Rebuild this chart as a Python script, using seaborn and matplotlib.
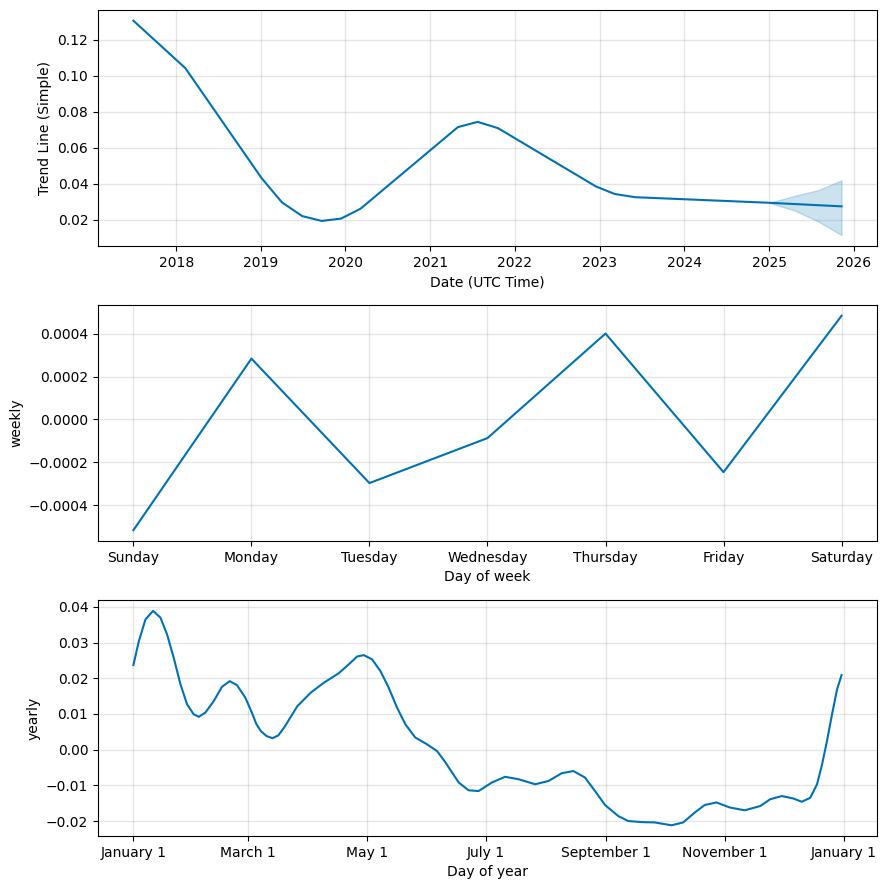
import pandas as pd
import numpy as np
import seaborn as sns
import matplotlib
matplotlib.use('Agg')
import matplotlib.pyplot as plt
from matplotlib.dates import MonthLocator, num2date
from matplotlib.ticker import FuncFormatter

# Trend component
trend_dates = ['2017-06-30', '2018-02-09', '2019-01-04', '2019-04-02', '2019-06-28',
               '2019-09-20', '2019-12-13', '2020-03-06', '2021-04-30', '2021-07-24',
               '2021-10-20', '2022-12-16', '2023-03-07', '2023-06-03', '2025-01-01',
               '2025-11-10']
trend_values = [0.1307, 0.1043, 0.0431, 0.0296, 0.0220, 0.0193, 0.0206, 0.0261,
                0.0715, 0.0744, 0.0709, 0.0385, 0.0343, 0.0325, 0.0294, 0.0274]

# Forecast uncertainty on the trend
band_dates = ['2025-01-01', '2025-04-23', '2025-07-31', '2025-11-10']
band_upper = [0.0294, 0.0333, 0.0364, 0.0419]
band_lower = [0.0294, 0.0250, 0.0191, 0.0114]

# Weekly component
week_days = ['Sunday', 'Monday', 'Tuesday', 'Wednesday', 'Thursday', 'Friday', 'Saturday']
weekly_values = [-0.000517, 0.000284, -0.000297, -0.000087, 0.000401, -0.000246, 0.000484]

# Yearly component (day offset from Jan 1, value)
year_days = [0, 2.8, 6.2, 10.1, 13.9, 17.3, 20.7, 24.2, 27.6, 31, 33.6, 37, 41.3,
             45.5, 49.5, 53.2, 57.5, 60.9, 63.1, 65.5, 68.5, 71.5, 74.5, 77.5, 84.3,
             91.2, 98, 105.5, 110.7, 115, 118.4, 122.7, 127, 131.2, 135.5, 139.8,
             144.9, 150.9, 156.1, 160.3, 167.2, 172.3, 177.4, 184.3, 191.1, 198,
             206.5, 213.3, 220.2, 226.2, 232.1, 237.3, 242.4, 249.2, 254.3, 261.2,
             268, 276.6, 282.6, 288.6, 293.7, 299.7, 306.5, 314.2, 322.2, 327.3,
             333.3, 339.3, 343.6, 347.9, 351.4, 354, 356.5, 359.1, 361.7, 364]
yearly_values = [0.0237, 0.0304, 0.0365, 0.0389, 0.0370, 0.0323, 0.0258, 0.0183,
                 0.0127, 0.0099, 0.0092, 0.0104, 0.0136, 0.0176, 0.0192, 0.0181,
                 0.0146, 0.0104, 0.0073, 0.0052, 0.0038, 0.0032, 0.0040, 0.0062,
                 0.0122, 0.0160, 0.0188, 0.0214, 0.0239, 0.0261, 0.0265, 0.0253,
                 0.0220, 0.0174, 0.0118, 0.0071, 0.0034, 0.0015, -0.0004, -0.0035,
                 -0.0092, -0.0114, -0.0116, -0.0092, -0.0076, -0.0083, -0.0097,
                 -0.0088, -0.0066, -0.0060, -0.0078, -0.0116, -0.0155, -0.0186,
                 -0.0200, -0.0203, -0.0204, -0.0212, -0.0204, -0.0176, -0.0155,
                 -0.0148, -0.0162, -0.0170, -0.0158, -0.0139, -0.0130, -0.0137,
                 -0.0146, -0.0135, -0.0097, -0.0041, 0.0024, 0.0099, 0.0169, 0.0209]

color = '#0072B2'

trend_df = pd.DataFrame({'ds': pd.to_datetime(trend_dates), 'trend': trend_values})
weekly_df = pd.DataFrame({'day': np.arange(len(week_days)), 'weekly': weekly_values})
yearly_df = pd.DataFrame({'ds': pd.Timestamp('2017-01-01') + pd.to_timedelta(year_days, unit='D'),
                          'yearly': yearly_values})

fig, axes = plt.subplots(3, 1, figsize=(8.86, 8.89), dpi=100)

# trend
ax = axes[0]
sns.lineplot(x='ds', y='trend', data=trend_df, ax=ax, color=color, linewidth=1.5)
ax.fill_between(pd.to_datetime(band_dates), band_lower, band_upper, color=color, alpha=0.2)
ax.set_xlabel('Date (UTC Time)')
ax.set_ylabel('Trend Line (Simple)')

# weekly
ax = axes[1]
sns.lineplot(x='day', y='weekly', data=weekly_df, ax=ax, color=color, linewidth=1.5)
ax.set_xticks(weekly_df['day'])
ax.set_xticklabels(week_days)
ax.set_xlabel('Day of week')
ax.set_ylabel('weekly')

# yearly
ax = axes[2]
sns.lineplot(x='ds', y='yearly', data=yearly_df, ax=ax, color=color, linewidth=1.5)
ax.xaxis.set_major_locator(MonthLocator(range(1, 13), bymonthday=1, interval=2))
ax.xaxis.set_major_formatter(FuncFormatter(
    lambda x, pos=None: '{dt:%B} {dt.day}'.format(dt=num2date(x))))
ax.set_xlabel('Day of year')
ax.set_ylabel('yearly')

for ax in axes:
    ax.grid(True, which='major', c='gray', ls='-', lw=1, alpha=0.2)

fig.subplots_adjust(left=0.1106, right=0.9898, top=0.9888, bottom=0.0596, hspace=0.251)
fig.savefig('out.png', dpi=100)
